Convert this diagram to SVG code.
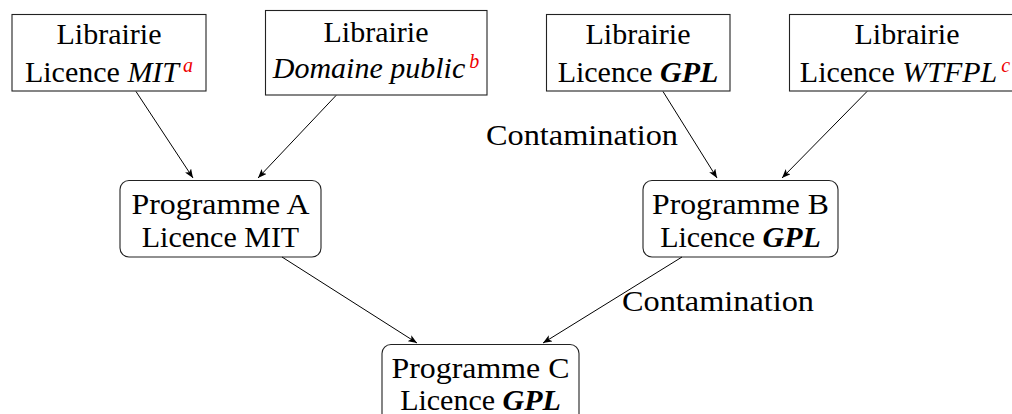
<svg xmlns="http://www.w3.org/2000/svg" width="1012" height="414" viewBox="0 0 1012 414">
<style>
text{font-family:"Liberation Serif","Times New Roman",serif;font-size:30px;fill:#000;text-anchor:middle}
.box{fill:#fff;stroke:#222;stroke-width:1.1}
.it{font-style:italic}
.bi{font-style:italic;font-weight:bold}
.sup{font-style:italic;font-size:20px;fill:#e00}
.lbl{text-anchor:start}
.edge{stroke:#000;stroke-width:1;fill:none;marker-end:url(#arr)}
</style>
<defs>
<marker id="arr" viewBox="0 0 10 8" refX="10" refY="4" markerWidth="9" markerHeight="7.2" markerUnits="userSpaceOnUse" orient="auto">
<path d="M0,0 L10,4 L0,8 L2.5,4 z" fill="#000"/>
</marker>
</defs>
<rect width="1012" height="414" fill="#fff"/>
<g id="lib-mit">
<rect class="box" x="12" y="14.5" width="194" height="76.5"/>
<text x="109" y="44">Librairie</text>
<text x="109" y="82">Licence <tspan class="it">MIT</tspan><tspan class="sup" dx="4" dy="-10">a</tspan></text>
</g>
<g id="lib-dp">
<rect class="box" x="265.5" y="10.5" width="221.5" height="84.5"/>
<text x="376" y="42">Librairie</text>
<text x="376" y="78"><tspan class="it">Domaine public</tspan><tspan class="sup" dx="4" dy="-10">b</tspan></text>
</g>
<g id="lib-gpl">
<rect class="box" x="546.5" y="14.5" width="183.5" height="76.5"/>
<text x="638" y="44">Librairie</text>
<text x="638" y="82">Licence <tspan class="bi">GPL</tspan></text>
</g>
<g id="lib-wtfpl">
<rect class="box" x="789.5" y="14.5" width="240" height="76.5"/>
<text x="907" y="44">Librairie</text>
<text x="905" y="82">Licence <tspan class="it">WTFPL</tspan><tspan class="sup" dx="4" dy="-10">c</tspan></text>
</g>
<g id="prog-a">
<rect class="box" x="120" y="180.5" width="201" height="76.5" rx="9"/>
<text x="220.5" y="214" textLength="178" lengthAdjust="spacingAndGlyphs">Programme A</text>
<text x="220.5" y="247">Licence MIT</text>
</g>
<g id="prog-b">
<rect class="box" x="643" y="180.5" width="195" height="76.5" rx="9"/>
<text x="740.5" y="214" textLength="177" lengthAdjust="spacingAndGlyphs">Programme B</text>
<text x="740.5" y="247">Licence <tspan class="bi">GPL</tspan></text>
</g>
<g id="prog-c">
<rect class="box" x="382" y="344.5" width="197" height="80" rx="9"/>
<text x="480.5" y="378" textLength="178" lengthAdjust="spacingAndGlyphs">Programme C</text>
<text x="480.5" y="410">Licence <tspan class="bi">GPL</tspan></text>
</g>
<g id="connectors">
<line class="edge" x1="136" y1="91.5" x2="193" y2="178"/>
<line class="edge" x1="336" y1="95.5" x2="258" y2="178"/>
<line class="edge" x1="663" y1="91.5" x2="717" y2="178"/>
<line class="edge" x1="867" y1="91.5" x2="782" y2="178"/>
<line class="edge" x1="282" y1="257" x2="417" y2="343"/>
<line class="edge" x1="682" y1="257" x2="543" y2="343"/>
<text class="lbl" x="486" y="145" textLength="192" lengthAdjust="spacingAndGlyphs">Contamination</text>
<text class="lbl" x="622" y="311" textLength="192" lengthAdjust="spacingAndGlyphs">Contamination</text>
</g>
</svg>
